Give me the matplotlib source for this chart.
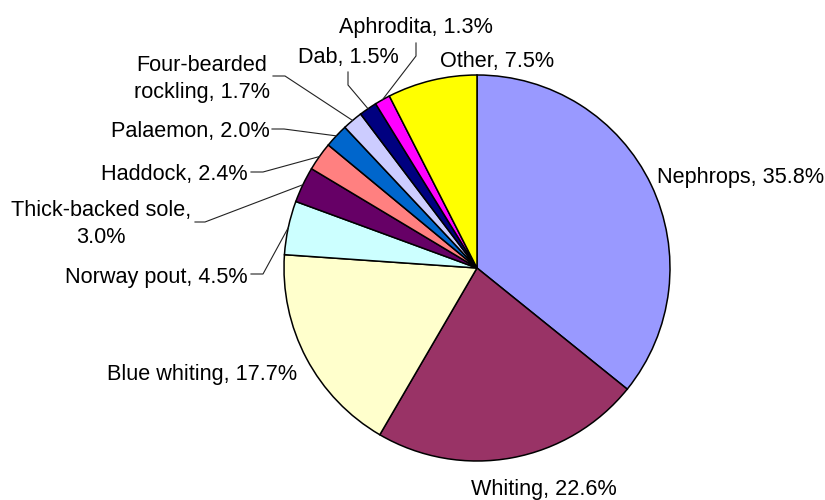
import numpy as np
import matplotlib.pyplot as plt

plt.rcParams["font.family"] = ["Liberation Sans", "DejaVu Sans"]

species = ["Nephrops", "Whiting", "Blue whiting", "Norway pout", "Thick-backed sole",
           "Haddock", "Palaemon", "Four-bearded\nrockling", "Dab", "Aphrodita", "Other"]
shares = [35.8, 22.6, 17.7, 4.5, 3.0, 2.4, 2.0, 1.7, 1.5, 1.3, 7.5]
separators = [", ", ", ", ", ", ", ", ",\n", ", ", ", ", ", ", ", ", ", ", ", "]
colours = ["#9999FF", "#993366", "#FFFFCC", "#CCFFFF", "#660066", "#FF8080",
           "#0066CC", "#CCCCFF", "#000080", "#FF00FF", "#FFFF00"]

W, H = 825, 500
CX, CY, R = 477, 268, 193

# text anchor (x, last baseline, ha) and leader start + elbow, in pixels from top-left
layout = [
    ((657, 183, "left"), None),
    ((544, 495, "center"), None),
    ((297, 380, "right"), None),
    ((248, 283, "right"), ((251, 274), (263, 274))),
    ((101, 243, "center"), ((195, 222), (205, 222))),
    ((248, 180, "right"), ((251, 172), (263, 172))),
    ((270, 137, "right"), ((272, 129), (284, 129))),
    ((202, 98, "center"), ((273, 76), (285, 76))),
    ((348, 63, "center"), ((348, 72), (348, 85))),
    ((416, 33, "center"), ((416, 43), (416, 56))),
    ((497, 67, "center"), None),
]


def flip(y):
    return H - y


fig = plt.figure(figsize=(W / 100, H / 100), dpi=100)
ax = fig.add_axes([0, 0, 1, 1])

wedges, _ = ax.pie(shares, colors=colours, startangle=90, counterclock=False,
                   center=(CX, flip(CY)), radius=R,
                   wedgeprops=dict(edgecolor="black", linewidth=1.1))

for w, name, sep, val, (txt, leader) in zip(wedges, species, separators, shares, layout):
    x, y, ha = txt
    ax.text(x, flip(y), f"{name}{sep}{val:.1f}%", ha=ha, va="baseline",
            fontsize=15.6, linespacing=1.38, color="black")
    if leader is None:
        continue
    mid = np.deg2rad((w.theta1 + w.theta2) / 2)
    ex = CX + R * np.cos(mid)
    ey = flip(CY) + R * np.sin(mid)
    (sx, sy), (kx, ky) = leader
    ax.plot([sx, kx, ex], [flip(sy), flip(ky), ey], color="#222222", lw=0.8,
            solid_joinstyle="miter")

ax.set_xlim(0, W)
ax.set_ylim(0, H)
ax.axis("off")

fig.savefig("out.png", dpi=100)
